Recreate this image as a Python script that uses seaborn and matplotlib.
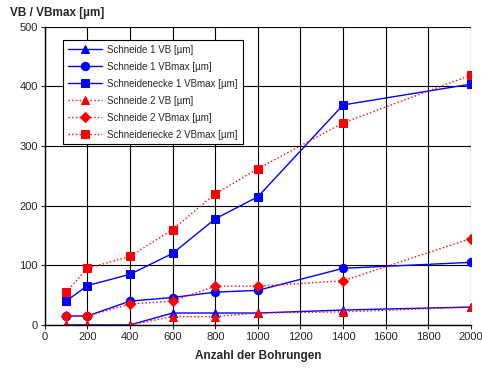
import pandas as pd
import matplotlib
matplotlib.use("Agg")
import matplotlib.pyplot as plt
import seaborn as sns

# Anzahl der Bohrungen
bohrungen = [100, 200, 400, 600, 800, 1000, 1400, 2000]

# Verschleisswerte [µm]
s1_vb = [0, 0, 0, 20, 20, 20, 25, 30]
s1_vbmax = [15, 15, 40, 46, 55, 58, 95, 105]
se1_vbmax = [40, 66, 85, 120, 178, 215, 369, 404]
s2_vb = [0, 0, 0, 14, 14, 20, 22, 30]
s2_vbmax = [15, 15, 35, 40, 65, 65, 74, 145]
se2_vbmax = [55, 95, 115, 160, 220, 262, 339, 419]

reihen = [
    ("Schneide 1 VB [µm]", s1_vb, "blue", "-", "^", 6),
    ("Schneide 1 VBmax [µm]", s1_vbmax, "blue", "-", "o", 6),
    ("Schneidenecke 1 VBmax [µm]", se1_vbmax, "blue", "-", "s", 6),
    ("Schneide 2 VB [µm]", s2_vb, "red", ":", "^", 6),
    ("Schneide 2 VBmax [µm]", s2_vbmax, "red", ":", "D", 5),
    ("Schneidenecke 2 VBmax [µm]", se2_vbmax, "red", ":", "s", 6),
]

sns.set_style("white")
plt.rcParams['font.family'] = ['Liberation Sans', 'DejaVu Sans']

fig = plt.figure(figsize=(4.82, 3.68), dpi=100)
ax = fig.add_axes([0.093, 0.117, 0.884, 0.81])

for name, werte, farbe, stil, marker, ms in reihen:
    df = pd.DataFrame({"x": bohrungen, "y": werte})
    sns.lineplot(data=df, x="x", y="y", ax=ax, color=farbe, linestyle=stil,
                 marker=marker, markersize=ms, markeredgecolor=farbe,
                 linewidth=1.0, label=name)

ax.set_xlim(0, 2000)
ax.set_ylim(0, 500)
ax.set_xticks(range(0, 2001, 200))
ax.set_yticks(range(0, 501, 100))
ax.tick_params(axis="both", labelsize=8, length=3, width=0.8, direction="out",
               bottom=True, left=True, pad=2)
ax.grid(True, color="black", linewidth=0.8)
for side in ["top", "right"]:
    ax.spines[side].set_visible(False)
for side in ["left", "bottom"]:
    ax.spines[side].set_color("black")
    ax.spines[side].set_linewidth(1.0)

ax.set_xlabel("Anzahl der Bohrungen", fontsize=8.5, fontweight="bold", labelpad=6)
ax.set_ylabel("")
fig.text(0.02, 0.965, "VB / VBmax [µm]", fontsize=8.5, fontweight="bold",
         ha="left", va="center")

leg = ax.legend(loc="upper left", bbox_to_anchor=(0.042, 0.957), fontsize=7,
                frameon=True, fancybox=False, framealpha=1, edgecolor="black",
                handlelength=3.5, handletextpad=0.6, borderpad=0.5,
                labelspacing=0.72, borderaxespad=0)
leg.get_frame().set_linewidth(0.8)

fig.savefig("out.png", dpi=100)
